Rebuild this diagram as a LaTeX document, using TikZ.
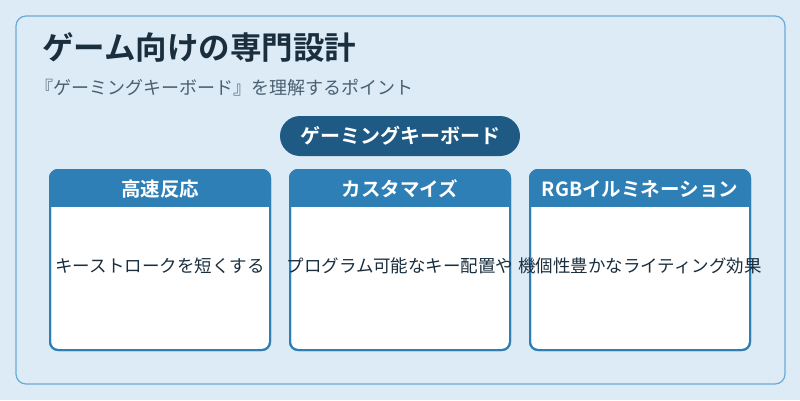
\documentclass[tikz,border=0pt]{standalone}
\usepackage{fontspec}
\setmainfont{Noto Sans CJK JP}
\newfontfamily\jpb{Noto Sans CJK JP Bold}
\begin{document}
\begin{tikzpicture}[x=1pt,y=-1pt,
  card/.style={draw=hdr,line width=2pt,fill=white,rounded corners=8pt},
  hdrtxt/.style={text=white,font=\jpb\fontsize{19.5}{22}\selectfont},
  body/.style={text=txt,font=\fontsize{17.5}{20}\selectfont,inner sep=0pt}]
\definecolor{bg}{HTML}{DCEBF6}
\definecolor{frame}{HTML}{6AAAD6}
\definecolor{hdr}{HTML}{2E7FB5}
\definecolor{pill}{HTML}{1F5A85}
\definecolor{txt}{HTML}{1A2E3E}
\definecolor{sub}{HTML}{4A6070}
\useasboundingbox (0,0) rectangle (800,400);
\fill[bg] (0,0) rectangle (800,400);
\draw[frame,fill=bg,line width=1.2pt,rounded corners=10pt] (16,16) rectangle (785,384);
\node[anchor=west,inner sep=0pt,text=txt,font=\jpb\fontsize{31.5}{36}\selectfont] (title) at (42,47) {ゲーム向けの専門設計};
\node[anchor=west,inner sep=0pt,text=sub,font=\fontsize{18}{21}\selectfont] (subt) at (35,88) {『ゲーミングキーボード』を理解するポイント};
\node[fill=pill,rounded corners=20pt,minimum width=240pt,minimum height=40pt,text=white,font=\jpb\fontsize{20}{23}\selectfont] (hub) at (400,136) {ゲーミングキーボード};
\foreach \x/\h/\b/\n in {50/高速反応/キーストロークを短くする/a,290/カスタマイズ/プログラム可能なキー配置や/b,530/RGBイルミネーション/機個性豊かなライティング効果/c}{
  \draw[card] (\x,170) rectangle (\x+220,350);
  \begin{scope}
    \clip[rounded corners=8pt] (\x,170) rectangle (\x+220,350);
    \fill[hdr] (\x,170) rectangle (\x+220,207);
  \end{scope}
  \draw[hdr,line width=2pt,rounded corners=8pt] (\x,170) rectangle (\x+220,350);
  \begin{scope}
    \clip (\x+2,170) rectangle (\x+218,207);
    \node[hdrtxt] (h\n) at (\x+110,189) {\h};
  \end{scope}
  \node[body] (t\n) at (\x+110,266) {\b};
}
\end{tikzpicture}
\end{document}
